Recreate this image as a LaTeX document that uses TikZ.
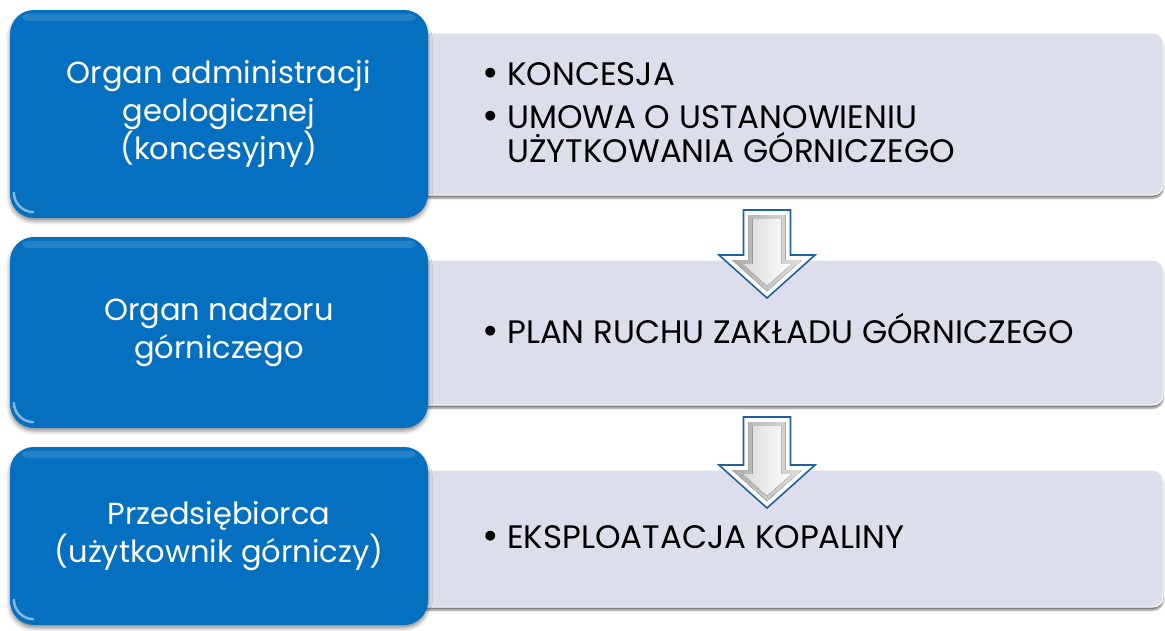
\documentclass[tikz,border=0pt]{standalone}
\usepackage{fontspec}
\setmainfont{Poppins}
\usetikzlibrary{calc,shadows.blur}
\definecolor{boxblue}{RGB}{6,112,192}
\definecolor{panelgray}{RGB}{220,222,236}
\definecolor{arrowblue}{RGB}{28,98,160}
\newcommand\blockarrowpath[3]{($(#1)+(-23.5+#3,#3)$) -- ($(#1)+(23.5-#3,#3)$) -- ($(#2)+(23.5-#3,-43+#3)$) -- ($(#2)+({48*(43-#3)/43-1.4985*#3},-43+#3)$) -- ($(#2)+(0,{-1.342*#3})$) -- ($(#2)+({-48*(43-#3)/43+1.4985*#3},-43+#3)$) -- ($(#2)+(-23.5+#3,-43+#3)$) -- cycle}
\newcommand\itembullet{\makebox[20pt][l]{\hspace{-5pt}\raisebox{-1.5pt}{\fontsize{40}{40}\selectfont •}}}
\tikzset{
  bluebox/.style={fill=boxblue, rounded corners=24pt, text=white, align=center,
    font=\fontsize{30.5}{38}\selectfont,
    blur shadow={shadow xshift=0pt, shadow yshift=-3pt, shadow blur radius=4pt, shadow opacity=45}},
  graybox/.style={fill=panelgray, draw=white, line width=1pt, rounded corners=10pt,
    blur shadow={shadow xshift=0pt, shadow yshift=-3pt, shadow blur radius=2pt, shadow opacity=55}},
  itemtext/.style={anchor=base west, font=\fontsize{32.5}{34}\selectfont, text=black, inner sep=0pt},
  gloss/.style={fill=white, opacity=0.12, rounded corners=5pt},
}
\begin{document}
\begin{tikzpicture}[x=1pt,y=-1pt]
\useasboundingbox (0,0) rectangle (1165,630);
% gray panels
\node[graybox, minimum width=763pt, minimum height=162pt] (g1) at (781.5,114) {};
\node[graybox, minimum width=763pt, minimum height=145pt] (g2) at (781.5,332.5) {};
\node[graybox, minimum width=763pt, minimum height=137pt] (g3) at (781.5,538.5) {};
% blue boxes
\node[bluebox, minimum width=418pt, minimum height=208pt] (b1) at (219,114) {Organ administracji\\geologicznej\\(koncesyjny)};
\node[bluebox, minimum width=418pt, minimum height=191pt] (b2) at (219,332.5) {Organ nadzoru\\górniczego};
\node[bluebox, minimum width=418pt, minimum height=178pt] (b3) at (219,536) {Przedsiębiorca\\(użytkownik górniczy)};
% gloss highlights
\foreach \b in {b1,b2,b3}{
  \fill[gloss] ($(\b.north west)+(12,4)$) rectangle ($(\b.north east)+(-12,11)$);
  \draw[white, opacity=0.5, line width=2.5pt] ($(\b.south west)+(4,-26)$) arc[start angle=180, end angle=270, radius=20pt];
}
% item texts
\node[itemtext] (t1) at (487,85) {\itembullet KONCESJA};
\node[itemtext] (t2) at (487,128) {\itembullet UMOWA O USTANOWIENIU};
\node[itemtext] (t3) at (507,162) {UŻYTKOWANIA GÓRNICZEGO};
\node[itemtext] (t4) at (487,343) {\itembullet PLAN RUCHU ZAKŁADU GÓRNICZEGO};
\node[itemtext] (t5) at (487,548) {\itembullet EKSPLOATACJA KOPALINY};
% arrows
\coordinate (a1s) at (767,210);
\coordinate (a1e) at (767,298);
\coordinate (a2s) at (767,417);
\coordinate (a2e) at (767,508);
\foreach \s/\e in {a1s/a1e,a2s/a2e}{
  \filldraw[fill=white, draw=arrowblue, line width=1.6pt, line join=miter] \blockarrowpath{\s}{\e}{0};
  \fill[left color=gray!65, right color=gray!25] \blockarrowpath{\s}{\e}{5};
  \fill[left color=gray!30, right color=white] \blockarrowpath{\s}{\e}{9};
}
\end{tikzpicture}
\end{document}
